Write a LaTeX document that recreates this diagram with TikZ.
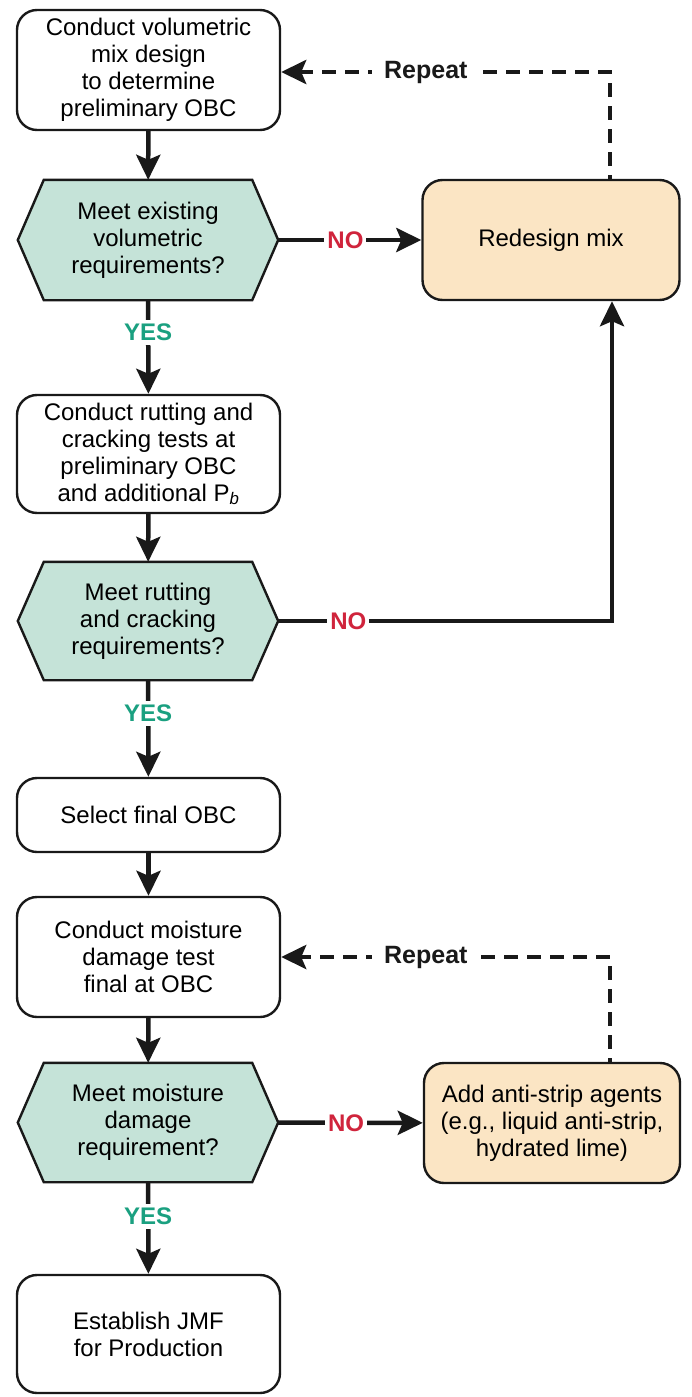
\documentclass[tikz,border=0pt]{standalone}
\usepackage{fontspec}
\setmainfont{Liberation Sans}
\usetikzlibrary{arrows.meta}
\pgfdeclarelayer{background}
\pgfsetlayers{background,main}

\definecolor{hexfill}{RGB}{197,227,216}
\definecolor{orfill}{RGB}{251,229,196}
\definecolor{yesc}{RGB}{26,160,128}
\definecolor{noc}{RGB}{208,36,60}
\definecolor{ink}{RGB}{25,25,25}

% hexagonal decision outline around a named node
\newcommand{\hexof}[1]{%
  \begin{pgfonlayer}{background}
    \draw[hexline] (#1.west) -- ([xshift=26pt]#1.north west) -- ([xshift=-26pt]#1.north east)
      -- (#1.east) -- ([xshift=-26pt]#1.south east) -- ([xshift=26pt]#1.south west) -- cycle;
  \end{pgfonlayer}}

\begin{document}
\begin{tikzpicture}[x=1pt,y=-1pt,
  bodyfont/.style={font=\fontsize{24}{27}\selectfont},
  stepbox/.style={bodyfont, draw=ink, line width=2.4pt, rounded corners=20pt, fill=white,
    align=center, minimum width=263pt, inner sep=0pt},
  actbox/.style={stepbox, fill=orfill, minimum width=257pt},
  decision/.style={bodyfont, align=center, minimum width=260pt, minimum height=120pt, inner sep=0pt},
  hexline/.style={draw=ink, line width=2.4pt, fill=hexfill, line join=miter},
  arr/.style={draw=ink, line width=4.5pt, -{Stealth[length=25pt,width=24pt,inset=5pt]}},
  dasharr/.style={draw=ink, line width=4.5pt, dash pattern=on 14pt off 9pt, dash phase=10pt,
    -{Stealth[length=25pt,width=24pt,inset=5pt]}},
  nolbl/.style={fill=white, text=noc, font=\fontsize{24}{26}\selectfont\bfseries, inner sep=3pt},
  yeslbl/.style={fill=white, text=yesc, font=\fontsize{24}{26}\selectfont\bfseries, inner sep=4pt},
  replbl/.style={fill=white, text=ink, font=\fontsize{25}{27}\selectfont\bfseries, inner xsep=12pt, inner ysep=4pt}
]
\useasboundingbox (0,0) rectangle (692,1397);

% main column
\node[stepbox, minimum height=120pt] (b1) at (148.5,70)
  {Conduct volumetric\\mix design\\to determine\\preliminary OBC};
\node[decision] (d1) at (148,240) {Meet existing\\volumetric\\requirements?};
\hexof{d1}
\node[stepbox, minimum height=118pt] (b2) at (148.5,454)
  {Conduct rutting and\\cracking tests at\\preliminary OBC\\and additional P\textsubscript{\itshape b}};
\node[decision, minimum height=118pt] (d2) at (148,621) {Meet rutting\\and cracking\\requirements?};
\hexof{d2}
\node[stepbox, minimum height=74pt] (b3) at (148.5,815) {Select final OBC};
\node[stepbox, minimum height=120pt] (b4) at (148.5,957)
  {Conduct moisture\\damage test\\final at OBC};
\node[decision, minimum height=119pt] (d3) at (148,1122.5) {Meet moisture\\damage\\requirement?};
\hexof{d3}
\node[stepbox, minimum height=118pt] (b5) at (148.5,1334) {Establish JMF\\for Production};

% remedial actions
\node[actbox, minimum height=120pt] (rd) at (551,240) {Redesign mix};
\node[actbox, minimum height=120pt, minimum width=256pt] (as) at (552,1123)
  {Add anti-strip agents\\(e.g., liquid anti-strip,\\hydrated lime)};

\coordinate (r1) at (610,72);
\coordinate (r2) at (610,957);
\coordinate (n2) at (612,621);

% forward flow
\draw[arr] (b1) -- (d1);
\draw[arr] (d1) -- node[yeslbl, pos=0.34] {YES} (b2);
\draw[arr] (b2) -- (d2);
\draw[arr] (d2) -- node[yeslbl, pos=0.34] {YES} (b3);
\draw[arr] (b3) -- (b4);
\draw[arr] (b4) -- (d3);
\draw[arr] (d3) -- node[yeslbl, pos=0.37] {YES} (b5);

% NO branches
\draw[arr] (d1) -- node[nolbl, pos=0.47] {NO} (rd);
\draw[arr] (d2.east) -- node[nolbl, pos=0.21] {NO} (n2) -- (rd.south -| n2);
\draw[arr] (d3) -- node[nolbl, pos=0.47] {NO} (as);

% repeat loops
\draw[dasharr] (rd.north -| r1) -- (r1) -- node[replbl, pos=0.56] {Repeat} (b1.east |- r1);
\draw[dasharr] (as.north -| r2) -- (r2) -- node[replbl, pos=0.56] {Repeat} (b4.east |- r2);
\end{tikzpicture}
\end{document}
